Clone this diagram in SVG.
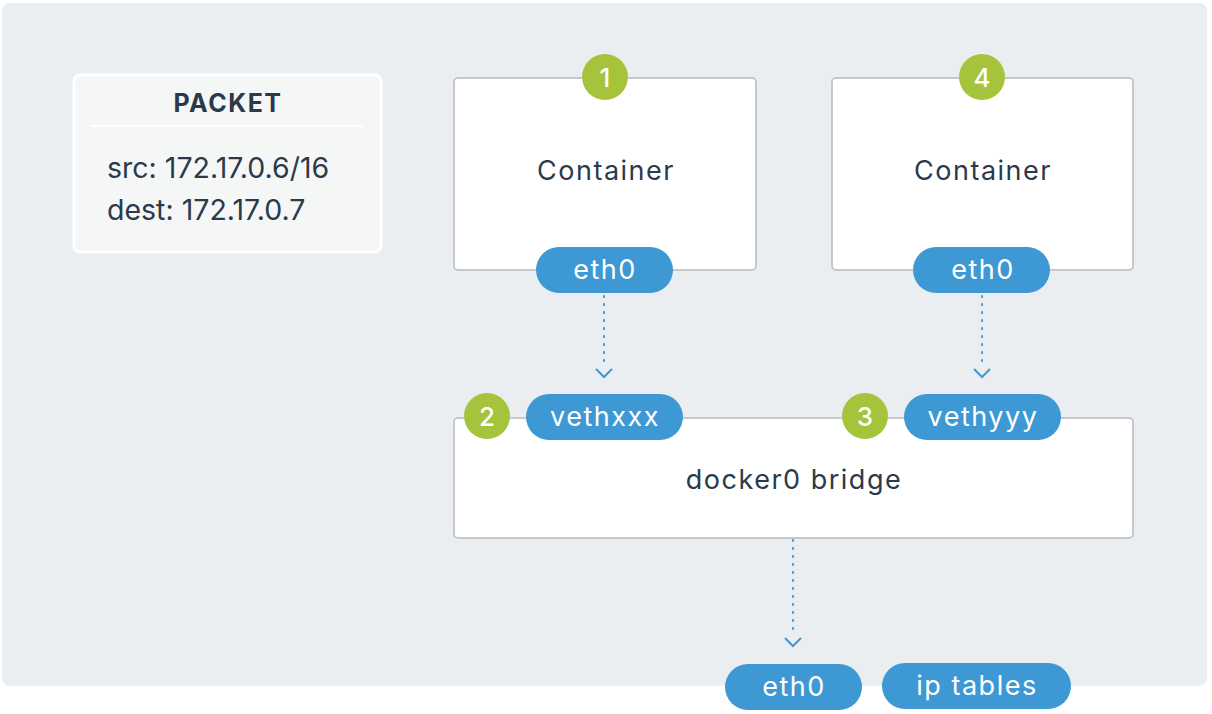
<svg xmlns="http://www.w3.org/2000/svg" width="1212" height="714" viewBox="0 0 1212 714">
<style>
.t{font-family:Inter,"Open Sans","Liberation Sans",sans-serif;fill:#2b3a4b}
.w{font-family:Inter,"Open Sans","Liberation Sans",sans-serif;fill:#ffffff;text-anchor:middle}
.lbl{font-size:27px;letter-spacing:1.5px}
.num{font-size:26px;font-weight:500}
.box{fill:#ffffff;stroke:#c5c9cd;stroke-width:2}
.pill{fill:#3e98d4}
.badge{fill:#a6c43b}
.con{stroke:#3e98d4;stroke-width:2;stroke-dasharray:1 7;stroke-linecap:round;fill:none}
.head{stroke:#3e98d4;stroke-width:2;fill:none}
</style>
<rect x="2" y="3" width="1205" height="683" rx="8" fill="#ebeef0"/>
<g id="packet">
<rect x="74" y="75" width="307" height="177" rx="6" fill="#f5f7f7" stroke="#ffffff" stroke-width="3"/>
<line x1="91" y1="126" x2="363" y2="126" stroke="#ffffff" stroke-width="2"/>
<text class="t" x="228" y="112" text-anchor="middle" font-size="25" font-weight="700" letter-spacing="1.5">PACKET</text>
<text class="t" x="107" y="178" font-size="28.5">src: 172.17.0.6/16</text>
<text class="t" x="107" y="220" font-size="28.5">dest: 172.17.0.7</text>
</g>
<g id="container1">
<rect class="box" x="454" y="78" width="302" height="192" rx="4"/>
<text class="t lbl" x="606" y="180" text-anchor="middle" letter-spacing="2">Container</text>
</g>
<g id="container2">
<rect class="box" x="832" y="78" width="301" height="192" rx="4"/>
<text class="t lbl" x="983" y="180" text-anchor="middle" letter-spacing="2">Container</text>
</g>
<g id="bridge">
<rect class="box" x="454" y="418" width="679" height="120" rx="4"/>
<text class="t lbl" x="794" y="489" text-anchor="middle">docker0 bridge</text>
</g>
<g id="connectors">
<line class="con" x1="604" y1="296" x2="604" y2="368"/>
<path class="head" d="M596 369 L604 377 L612 369"/>
<line class="con" x1="982" y1="296" x2="982" y2="368"/>
<path class="head" d="M974 369 L982 377 L990 369"/>
<line class="con" x1="793" y1="540" x2="793" y2="636"/>
<path class="head" d="M785 638 L793 646 L801 638"/>
</g>
<g id="eth0-1">
<rect class="pill" x="536" y="247" width="137" height="46" rx="23"/>
<text class="w lbl" x="605" y="279">eth0</text>
</g>
<g id="eth0-2">
<rect class="pill" x="913" y="247" width="137" height="46" rx="23"/>
<text class="w lbl" x="983" y="279">eth0</text>
</g>
<g id="vethxxx">
<rect class="pill" x="526" y="394" width="157" height="46" rx="23"/>
<text class="w lbl" x="605" y="426" letter-spacing="0.8">vethxxx</text>
</g>
<g id="vethyyy">
<rect class="pill" x="904" y="394" width="157" height="46" rx="23"/>
<text class="w lbl" x="983" y="426" letter-spacing="0.8">vethyyy</text>
</g>
<g id="eth0-host">
<rect class="pill" x="725" y="664" width="137" height="46" rx="23"/>
<text class="w lbl" x="794" y="696">eth0</text>
</g>
<g id="iptables">
<rect class="pill" x="882" y="663" width="189" height="46" rx="23"/>
<text class="w lbl" x="977" y="695">ip tables</text>
</g>
<g id="badge1">
<circle class="badge" cx="605" cy="77" r="23"/>
<text class="w num" x="605" y="87">1</text>
</g>
<g id="badge4">
<circle class="badge" cx="982" cy="77" r="23"/>
<text class="w num" x="982" y="87">4</text>
</g>
<g id="badge2">
<circle class="badge" cx="487" cy="416" r="23"/>
<text class="w num" x="487" y="426">2</text>
</g>
<g id="badge3">
<circle class="badge" cx="865" cy="416" r="23"/>
<text class="w num" x="865" y="426">3</text>
</g>
</svg>
